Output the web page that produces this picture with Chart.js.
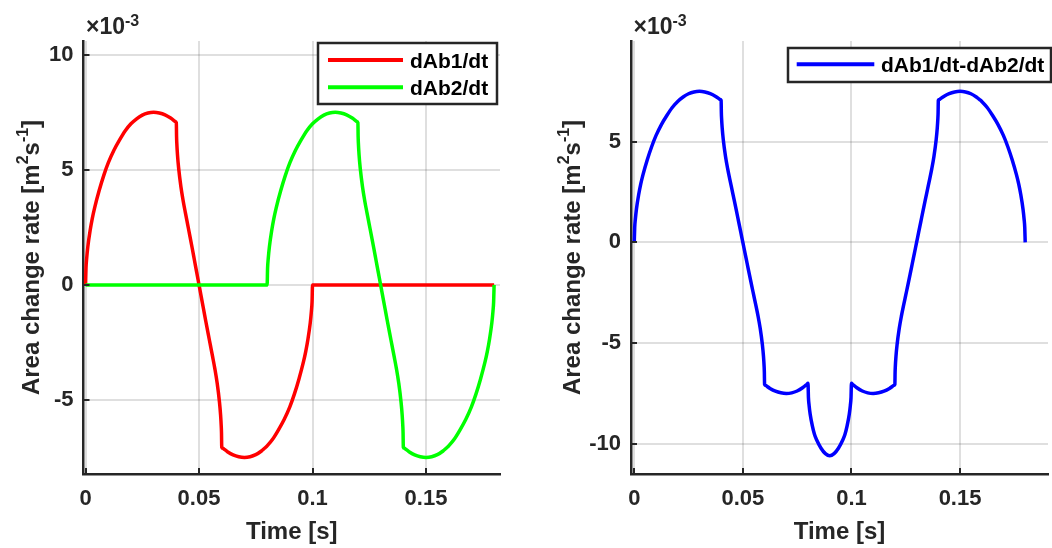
<!DOCTYPE html>
<html>
<head>
<meta charset="utf-8">
<script src="https://cdn.jsdelivr.net/npm/chart.js@4.4.1/dist/chart.umd.min.js"></script>
<style>
  html, body { margin: 0; padding: 0; background: #fff; }
  body { width: 1052px; height: 548px; position: relative; overflow: hidden; }
  canvas { position: absolute; top: 0; }
  #chartLeft { left: 0; }
  #chartRight { left: 526px; }
</style>
</head>
<body>
<canvas id="chartLeft" width="526" height="548"></canvas>
<canvas id="chartRight" width="526" height="548"></canvas>
<script>
// rates in units of 1e-3 m^2/s, time in s
const timeAb1 = [
  0, 0.0002, 0.0005, 0.001, 0.002, 0.003, 0.004, 0.006, 0.008, 0.010, 0.0125, 0.015, 0.0175, 0.020, 0.0225, 0.025, 0.0275, 0.030, 0.0325, 0.035, 0.0375, 0.039, 0.0395, 0.040,
  0.0401, 0.0402, 0.0405, 0.041, 0.042, 0.043, 0.044, 0.045, 0.046, 0.047, 0.048, 0.049, 0.050, 0.051, 0.052, 0.053, 0.054, 0.055, 0.056, 0.057, 0.058, 0.059, 0.0595, 0.0598, 0.0599, 0.060,
  0.0605, 0.061, 0.0625, 0.065, 0.0675, 0.070, 0.0725, 0.075, 0.0775, 0.079, 0.0795, 0.080, 0.0825, 0.085, 0.0875, 0.090, 0.092, 0.094, 0.096, 0.097, 0.098, 0.099, 0.0995, 0.0998, 0.100,
  0.180
]
const rateAb1 = [
  0, 0.73, 1.15, 1.65, 2.35, 2.9, 3.35, 4.1, 4.75, 5.3, 5.85, 6.3, 6.7, 7.0, 7.22, 7.38, 7.47, 7.5, 7.47, 7.39, 7.25, 7.14, 7.1, 7.05,
  6.45, 6.17, 5.66, 5.09, 4.28, 3.66, 3.13, 2.62, 2.11, 1.59, 1.06, 0.53, 0, -0.53, -1.06, -1.59, -2.11, -2.62, -3.13, -3.66, -4.28, -5.09, -5.66, -6.17, -6.45, -7.05,
  -7.1, -7.14, -7.25, -7.39, -7.47, -7.5, -7.47, -7.38, -7.22, -7.09, -7.05, -7.0, -6.7, -6.3, -5.85, -5.3, -4.75, -4.1, -3.35, -2.9, -2.35, -1.65, -1.15, -0.73, 0,
  0
]

const timeAb2 = [
  0, 0.080,
  0.0802, 0.0805, 0.081, 0.082, 0.083, 0.084, 0.086, 0.088, 0.090, 0.0925, 0.095, 0.0975, 0.100, 0.1025, 0.105, 0.1075, 0.110, 0.1125, 0.115, 0.1175, 0.119, 0.1195, 0.120,
  0.1201, 0.1202, 0.1205, 0.121, 0.122, 0.123, 0.124, 0.125, 0.126, 0.127, 0.128, 0.129, 0.130, 0.131, 0.132, 0.133, 0.134, 0.135, 0.136, 0.137, 0.138, 0.139, 0.1395, 0.1398, 0.1399, 0.140,
  0.1405, 0.141, 0.1425, 0.145, 0.1475, 0.150, 0.1525, 0.155, 0.1575, 0.159, 0.1595, 0.160, 0.1625, 0.165, 0.1675, 0.170, 0.172, 0.174, 0.176, 0.177, 0.178, 0.179, 0.1795, 0.1798, 0.180
]
const rateAb2 = [
  0, 0,
  0.73, 1.15, 1.65, 2.35, 2.9, 3.35, 4.1, 4.75, 5.3, 5.85, 6.3, 6.7, 7.0, 7.22, 7.38, 7.47, 7.5, 7.47, 7.39, 7.25, 7.14, 7.1, 7.05,
  6.45, 6.17, 5.66, 5.09, 4.28, 3.66, 3.13, 2.62, 2.11, 1.59, 1.06, 0.53, 0, -0.53, -1.06, -1.59, -2.11, -2.62, -3.13, -3.66, -4.28, -5.09, -5.66, -6.17, -6.45, -7.05,
  -7.1, -7.14, -7.25, -7.39, -7.47, -7.5, -7.47, -7.38, -7.22, -7.09, -7.05, -7.0, -6.7, -6.3, -5.85, -5.3, -4.75, -4.1, -3.35, -2.9, -2.35, -1.65, -1.15, -0.73, 0
]

const timeDiff = [
  0, 0.0002, 0.0005, 0.001, 0.002, 0.003, 0.004, 0.006, 0.008, 0.010, 0.0125, 0.015, 0.0175, 0.020, 0.0225, 0.025, 0.0275, 0.030, 0.0325, 0.035, 0.0375, 0.039, 0.0395, 0.040,
  0.0401, 0.0402, 0.0405, 0.041, 0.042, 0.043, 0.044, 0.045, 0.046, 0.047, 0.048, 0.049, 0.050, 0.051, 0.052, 0.053, 0.054, 0.055, 0.056, 0.057, 0.058, 0.059, 0.0595, 0.0598, 0.0599, 0.060,
  0.0605, 0.061, 0.0625, 0.065, 0.0675, 0.070, 0.0725, 0.075, 0.0775, 0.079, 0.0795, 0.080,
  0.0802, 0.0805, 0.081, 0.082, 0.083, 0.084, 0.086, 0.088, 0.090, 0.092, 0.094, 0.096, 0.097, 0.098, 0.099, 0.0995, 0.0998, 0.100,
  0.1005, 0.101, 0.1025, 0.105, 0.1075, 0.110, 0.1125, 0.115, 0.1175, 0.119, 0.1195, 0.120,
  0.1201, 0.1202, 0.1205, 0.121, 0.122, 0.123, 0.124, 0.125, 0.126, 0.127, 0.128, 0.129, 0.130, 0.131, 0.132, 0.133, 0.134, 0.135, 0.136, 0.137, 0.138, 0.139, 0.1395, 0.1398, 0.1399, 0.140,
  0.1405, 0.141, 0.1425, 0.145, 0.1475, 0.150, 0.1525, 0.155, 0.1575, 0.159, 0.1595, 0.160, 0.1625, 0.165, 0.1675, 0.170, 0.172, 0.174, 0.176, 0.177, 0.178, 0.179, 0.1795, 0.1798, 0.180
]
const rateDiff = [
  0, 0.73, 1.15, 1.65, 2.35, 2.9, 3.35, 4.1, 4.75, 5.3, 5.85, 6.3, 6.7, 7.0, 7.22, 7.38, 7.47, 7.5, 7.47, 7.39, 7.25, 7.14, 7.1, 7.05,
  6.45, 6.17, 5.66, 5.09, 4.28, 3.66, 3.13, 2.62, 2.11, 1.59, 1.06, 0.53, 0, -0.53, -1.06, -1.59, -2.11, -2.62, -3.13, -3.66, -4.28, -5.09, -5.66, -6.17, -6.45, -7.05,
  -7.1, -7.14, -7.25, -7.39, -7.47, -7.5, -7.47, -7.38, -7.22, -7.09, -7.05, -7.0,
  -7.71, -8.09, -8.53, -9.11, -9.54, -9.81, -10.22, -10.49, -10.6, -10.49, -10.22, -9.81, -9.54, -9.11, -8.53, -8.09, -7.71, -7.0,
  -7.05, -7.09, -7.22, -7.38, -7.47, -7.5, -7.47, -7.39, -7.25, -7.14, -7.1, -7.05,
  -6.45, -6.17, -5.66, -5.09, -4.28, -3.66, -3.13, -2.62, -2.11, -1.59, -1.06, -0.53, 0, 0.53, 1.06, 1.59, 2.11, 2.62, 3.13, 3.66, 4.28, 5.09, 5.66, 6.17, 6.45, 7.05,
  7.1, 7.14, 7.25, 7.39, 7.47, 7.5, 7.47, 7.38, 7.22, 7.09, 7.05, 7.0, 6.7, 6.3, 5.85, 5.3, 4.75, 4.1, 3.35, 2.9, 2.35, 1.65, 1.15, 0.73, 0
]

const timeTicks = [0, 0.05, 0.1, 0.15]
const leftRateTicks = [-5, 0, 5, 10]
const rightRateTicks = [-10, -5, 0, 5]
const seriesLabels = ['dAb1/dt', 'dAb2/dt', 'dAb1/dt-dAb2/dt']

const FONT = '"Liberation Sans", Arial, Helvetica, sans-serif'
const INK = '#262626'

Chart.defaults.font.family = FONT

const toPoints = (xs, ys) => xs.map((x, i) => ({x: x, y: ys[i]}))

// draws a run of [text, size, raise] pieces, like tex superscripts
function drawParts(ctx, parts, x, y, align) {
  let total = 0
  parts.forEach(p => {
    ctx.font = `bold ${p[1]}px ${FONT}`
    total += ctx.measureText(p[0]).width
  })
  let cx = align === 'center' ? x - total / 2 : x
  ctx.textAlign = 'left'
  ctx.textBaseline = 'alphabetic'
  parts.forEach(p => {
    ctx.font = `bold ${p[1]}px ${FONT}`
    ctx.fillText(p[0], cx, y - (p[2] || 0))
    cx += ctx.measureText(p[0]).width
  })
}

const panelDecor = {
  id: 'panelDecor',
  afterDraw(chart, args, opts) {
    const {ctx, chartArea: area, scales} = chart
    ctx.save()

    // inward tick marks
    ctx.strokeStyle = INK
    ctx.lineWidth = 2
    ctx.beginPath()
    scales.x.ticks.forEach(t => {
      const px = Math.round(scales.x.getPixelForValue(t.value))
      ctx.moveTo(px, area.bottom)
      ctx.lineTo(px, area.bottom - 6)
    })
    scales.y.ticks.forEach(t => {
      const py = Math.round(scales.y.getPixelForValue(t.value))
      ctx.moveTo(area.left, py)
      ctx.lineTo(area.left + 6, py)
    })
    ctx.stroke()

    ctx.fillStyle = INK
    // exponent label above the y axis
    drawParts(ctx, [['\u00d710', 23, 0], ['-3', 16, 8]], area.left + 2.5, 34, 'left')

    // x title
    drawParts(ctx, [['Time [s]', 24, 0]], (area.left + area.right) / 2, 539, 'center')

    // y title, rotated
    ctx.save()
    ctx.translate(opts.yTitleX, (area.top + area.bottom) / 2)
    ctx.rotate(-Math.PI / 2)
    drawParts(ctx, [['Area change rate [m', 24, 0], ['2', 16, 11], ['s', 24, 0], ['-1', 16, 11], [']', 24, 0]], 0, 0, 'center')
    ctx.restore()

    // legend box
    const lg = opts.legend
    ctx.fillStyle = '#ffffff'
    ctx.fillRect(lg.x, lg.y, lg.w, lg.h)
    ctx.strokeStyle = INK
    ctx.lineWidth = 2.5
    ctx.strokeRect(lg.x, lg.y, lg.w, lg.h)
    chart.data.datasets.forEach((ds, i) => {
      const ry = lg.rows[i]
      ctx.strokeStyle = ds.borderColor
      ctx.lineWidth = 4
      ctx.beginPath()
      ctx.moveTo(lg.lineX0, ry)
      ctx.lineTo(lg.lineX1, ry)
      ctx.stroke()
      ctx.fillStyle = '#000000'
      drawParts(ctx, [[ds.label, 21, 0]], lg.textX, ry + 7.5, 'left')
    })

    ctx.restore()
  }
}

function makePanel(canvas, datasets, cfg) {
  return new Chart(canvas, {
    type: 'line',
    data: {datasets: datasets},
    plugins: [panelDecor],
    options: {
      responsive: false,
      animation: false,
      events: [],
      layout: {padding: {top: 41, right: cfg.padRight, left: 0, bottom: 0}},
      elements: {point: {radius: 0}},
      plugins: {
        legend: {display: false},
        tooltip: {enabled: false},
        panelDecor: cfg.decor
      },
      scales: {
        x: {
          type: 'linear',
          min: cfg.xMin,
          max: cfg.xMax,
          afterBuildTicks: s => { s.ticks = timeTicks.map(v => ({value: v})) },
          afterFit: s => { s.height = 74 },
          grid: {color: 'rgba(38,38,38,0.15)', lineWidth: 2, drawTicks: false},
          border: {color: INK, width: 2.5},
          ticks: {
            color: INK,
            padding: 12,
            maxRotation: 0,
            font: {size: 22, weight: 'bold'},
            callback: v => String(v)
          }
        },
        y: {
          type: 'linear',
          min: cfg.yMin,
          max: cfg.yMax,
          afterBuildTicks: s => { s.ticks = cfg.yTicks.map(v => ({value: v})) },
          afterFit: s => { s.width = cfg.yWidth },
          grid: {color: 'rgba(38,38,38,0.15)', lineWidth: 2, drawTicks: false},
          border: {color: INK, width: 2.5},
          ticks: {
            color: INK,
            padding: 10,
            font: {size: 22, weight: 'bold'},
            callback: v => String(v)
          }
        }
      }
    }
  })
}

const lineStyle = {borderWidth: 3.5, fill: false, cubicInterpolationMode: 'monotone'}

makePanel(document.getElementById('chartLeft'), [
  Object.assign({label: seriesLabels[0], data: toPoints(timeAb1, rateAb1), borderColor: '#ff0000', order: 1}, lineStyle),
  Object.assign({label: seriesLabels[1], data: toPoints(timeAb2, rateAb2), borderColor: '#00ff00', order: 0}, lineStyle)
], {
  xMin: -0.0009, xMax: 0.1826,
  yMin: -8.22, yMax: 10.6,
  yTicks: leftRateTicks,
  yWidth: 83.5,
  padRight: 26,
  decor: {
    yTitleX: 38.5,
    legend: {x: 318, y: 43, w: 179, h: 61, lineX0: 328, lineX1: 403, textX: 410, rows: [60, 87.3]}
  }
})

makePanel(document.getElementById('chartRight'), [
  Object.assign({label: seriesLabels[2], data: toPoints(timeDiff, rateDiff), borderColor: '#0000ff'}, lineStyle)
], {
  xMin: -0.0015, xMax: 0.1905,
  yMin: -11.5, yMax: 10.0,
  yTicks: rightRateTicks,
  yWidth: 105,
  padRight: 4,
  decor: {
    yTitleX: 54,
    legend: {x: 262, y: 48, w: 263, h: 34, lineX0: 270.7, lineX1: 348.3, textX: 355, rows: [64.3]}
  }
})
</script>
</body>
</html>
